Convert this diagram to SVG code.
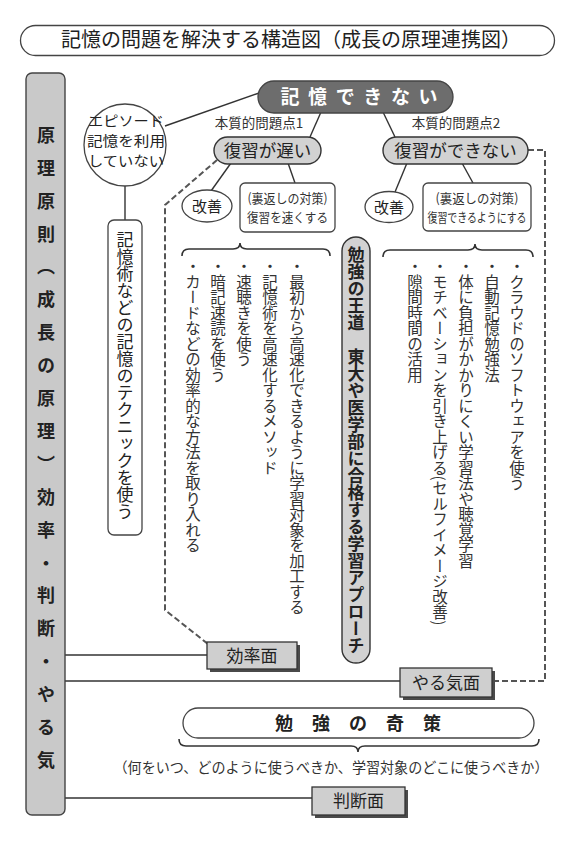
<svg xmlns="http://www.w3.org/2000/svg" width="585" height="866" viewBox="0 0 585 866">
<style>
text{font-family:"Noto Sans CJK JP","Noto Sans",sans-serif;fill:#222}
.v{writing-mode:vertical-rl}
.b{font-weight:bold}
.ln{stroke:#333;stroke-width:1.4;fill:none}
.dash{stroke:#555;stroke-width:2;fill:none;stroke-dasharray:6 3}
.brace{stroke:#333;stroke-width:1.6;fill:none}
.pill{fill:#d2d2d2;stroke:#333;stroke-width:1.4}
.wb{fill:#fff;stroke:#444;stroke-width:1.3}
.sh{fill:#4a4a4a}
.box{fill:#cfcfcf;stroke:#333;stroke-width:1.3}
.bl{font-size:15.5px;fill:#333}
.sm{font-size:13px;fill:#333}
.ep{font-size:13.8px}
</style>
<rect width="585" height="866" fill="#fff"/>

<g id="title">
<rect x="20.5" y="25.5" width="534" height="30" rx="15" class="wb"/>
<text x="291" y="47" font-size="20" text-anchor="middle">記憶の問題を解決する構造図（成長の原理連携図）</text>
</g>

<g id="connectors">
<line x1="165" y1="126" x2="262" y2="92" class="ln"/>
<line x1="321" y1="112" x2="310" y2="137" class="ln"/>
<line x1="383" y1="112" x2="395" y2="137" class="ln"/>
<line x1="231" y1="163" x2="211" y2="191" class="ln"/>
<line x1="288" y1="163" x2="295" y2="183" class="ln"/>
<line x1="407" y1="163" x2="395" y2="192" class="ln"/>
<line x1="462" y1="163" x2="473" y2="183" class="ln"/>
<line x1="125" y1="186" x2="125" y2="220" class="ln"/>
<line x1="65" y1="655" x2="207" y2="655" class="ln"/>
<line x1="65" y1="681" x2="400" y2="681" class="ln"/>
<line x1="65" y1="798" x2="312" y2="798" class="ln"/>
<path d="M217,160 L165,205 L165,610 L208,644" class="dash"/>
<path d="M528,150 L545,150 L545,681 L492,681" class="dash"/>
</g>

<g id="braces">
<path class="brace" d="M182,256 Q182,249 189,249 L233,249 Q240,249 240,243 Q240,249 247,249 L323,249 Q330,249 330,256"/>
<path class="brace" d="M383,257 Q383,250 390,250 L468,250 Q475,250 475,244 Q475,250 482,250 L526,250 Q533,250 533,257"/>
<path class="brace" d="M179,739 Q179,746 186,746 L351,746 Q358,746 358,752 Q358,746 365,746 L532,746 Q539,746 539,739"/>
</g>

<g id="principle">
<rect x="26" y="73" width="39" height="742" rx="6" fill="#c9c9c9" stroke="#444" stroke-width="1.4"/>
<text class="v b" x="46" y="126" font-size="18" letter-spacing="14.9">原理原則（成長の原理）効率・判断・やる気</text>
</g>

<g id="cannot-remember">
<rect x="258" y="81" width="195" height="32" rx="16" fill="#6d6d6d" stroke="#444" stroke-width="1.3"/>
<text x="280.5" y="104" font-size="19" letter-spacing="8.6" class="b" style="fill:#fff">記憶できない</text>
</g>

<g id="episode">
<circle cx="125" cy="145" r="41" class="wb" stroke-width="1.8"/>
<text x="126" y="126" class="ep" text-anchor="middle" textLength="76" lengthAdjust="spacingAndGlyphs">エピソード</text>
<text x="126" y="146" class="ep" text-anchor="middle" textLength="78" lengthAdjust="spacingAndGlyphs">記憶を利用</text>
<text x="126" y="166" class="ep" text-anchor="middle" textLength="76" lengthAdjust="spacingAndGlyphs">していない</text>
</g>

<g id="technique">
<rect x="108" y="220" width="34" height="315" rx="6" class="wb"/>
<text class="v" x="125" y="231.5" font-size="17">記憶術などの記憶のテクニックを使う</text>
</g>

<g id="problem1">
<text x="259" y="128" font-size="13.5" text-anchor="middle" style="fill:#333">本質的問題点1</text>
<rect x="214" y="137" width="107" height="27" rx="13.5" class="pill"/>
<text x="267.5" y="156.5" font-size="17.5" text-anchor="middle">復習が遅い</text>
</g>

<g id="problem2">
<text x="456" y="128" font-size="13.5" text-anchor="middle" style="fill:#333">本質的問題点2</text>
<rect x="383" y="137" width="145" height="27" rx="13.5" class="pill"/>
<text x="455.5" y="156.5" font-size="17.5" text-anchor="middle">復習ができない</text>
</g>

<g id="improve1">
<ellipse cx="207" cy="206" rx="25" ry="16" class="wb"/>
<text x="207" y="211.5" font-size="15" text-anchor="middle">改善</text>
</g>

<g id="counter1">
<rect x="240" y="183" width="95" height="49" rx="5" class="wb"/>
<text x="287.5" y="203" class="sm" text-anchor="middle" textLength="80" lengthAdjust="spacingAndGlyphs">(裏返しの対策)</text>
<text x="287.5" y="222" class="sm" text-anchor="middle" textLength="81" lengthAdjust="spacingAndGlyphs">復習を速くする</text>
</g>

<g id="improve2">
<ellipse cx="389" cy="207" rx="24" ry="15.5" class="wb"/>
<text x="389" y="212.5" font-size="15" text-anchor="middle">改善</text>
</g>

<g id="counter2">
<rect x="423" y="183" width="108" height="48" rx="5" class="wb"/>
<text x="477" y="203" class="sm" text-anchor="middle" textLength="83" lengthAdjust="spacingAndGlyphs">(裏返しの対策)</text>
<text x="477" y="222" class="sm" text-anchor="middle" textLength="99" lengthAdjust="spacingAndGlyphs">復習できるようにする</text>
</g>

<g id="royal-road">
<rect x="342" y="237" width="28" height="426" rx="14" class="pill"/>
<text class="v b" x="356" y="246.5" font-size="17">勉強の王道　東大や医学部に合格する学習アプローチ</text>
</g>

<g id="efficiency-methods">
<text class="v bl" x="297" y="258.5">・最初から高速化できるように学習対象を加工する</text>
<text class="v bl" x="270" y="258.5">・記憶術を高速化するメソッド</text>
<text class="v bl" x="244" y="258.5">・速聴きを使う</text>
<text class="v bl" x="218" y="258.5">・暗記速読を使う</text>
<text class="v bl" x="193" y="258.5">・カードなどの効率的な方法を取り入れる</text>
</g>

<g id="motivation-methods">
<text class="v bl" x="517" y="258.5">・クラウドのソフトウェアを使う</text>
<text class="v bl" x="492" y="258.5">・自動記憶勉強法</text>
<text class="v bl" x="466" y="258.5">・体に負担がかかりにくい学習法や聴覚学習</text>
<text class="v bl" x="440" y="258.5">・モチベーションを引き上げる(セルフイメージ改善)</text>
<text class="v bl" x="415" y="258.5">・隙間時間の活用</text>
</g>

<g id="efficiency">
<rect x="210" y="645" width="90" height="27" class="sh"/>
<rect x="207" y="642" width="90" height="27" class="box"/>
<text x="252" y="661.5" font-size="17" text-anchor="middle">効率面</text>
</g>

<g id="motivation">
<rect x="403" y="671" width="92" height="29" class="sh"/>
<rect x="400" y="668" width="92" height="29" class="box"/>
<text x="446" y="688.5" font-size="17" text-anchor="middle">やる気面</text>
</g>

<g id="tricks">
<rect x="183" y="708" width="351" height="30" rx="15" class="wb"/>
<text x="275" y="729.5" font-size="18" letter-spacing="19" class="b">勉強の奇策</text>
<text x="331" y="773" font-size="14.5" text-anchor="middle" textLength="435" lengthAdjust="spacingAndGlyphs" style="fill:#333">（何をいつ、どのように使うべきか、学習対象のどこに使うべきか）</text>
</g>

<g id="judgement">
<rect x="315" y="790" width="93" height="28" class="sh"/>
<rect x="312" y="787" width="93" height="28" class="box"/>
<text x="358.5" y="807" font-size="17" text-anchor="middle">判断面</text>
</g>
</svg>
